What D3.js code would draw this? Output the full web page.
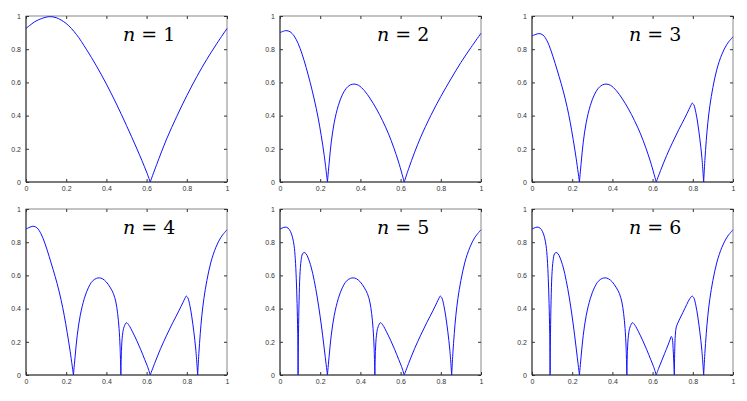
<!DOCTYPE html>
<html>
<head>
<meta charset="utf-8">
<script src="https://cdn.jsdelivr.net/npm/d3@7"></script>
<style>
  body { margin: 0; background: #fff; }
  svg { display: block; }
  .tick text { font-family: "Liberation Sans", Arial, sans-serif; font-size: 7px; fill: #333; }
  .nlabel { font-family: "DejaVu Serif", "Liberation Serif", serif; font-size: 19px; fill: #000; }
</style>
</head>
<body>
<div id="chart"></div>
<script>
// values, [x, y]
const nValues = [1, 2, 3, 4, 5, 6]
const xTicks = [0, 0.2, 0.4, 0.6, 0.8, 1]
const yTicks = [0, 0.2, 0.4, 0.6, 0.8, 1]

const curve1 = [[0,0.925],[0.05,0.97],[0.1,0.993],[0.12,0.996],[0.15,0.99],[0.2,0.955],[0.25,0.89],[0.3,0.8],[0.35,0.7],[0.4,0.59],[0.45,0.47],[0.5,0.34],[0.55,0.205],[0.6,0.06],[0.618,0],
  [0.65,0.105],[0.7,0.26],[0.75,0.395],[0.8,0.52],[0.85,0.635],[0.9,0.74],[0.95,0.835],[1,0.925]]

const curve2 = [[0,0.9],[0.03,0.912],[0.05,0.905],[0.07,0.88],[0.09,0.835],[0.11,0.77],[0.13,0.69],[0.15,0.6],[0.17,0.5],[0.19,0.385],[0.205,0.28],[0.22,0.16],[0.236,0],
  [0.245,0.12],[0.255,0.24],[0.27,0.36],[0.29,0.46],[0.31,0.525],[0.33,0.565],[0.35,0.585],[0.368,0.59],[0.39,0.583],[0.42,0.55],[0.45,0.5],[0.48,0.44],[0.51,0.37],[0.54,0.29],[0.565,0.21],[0.59,0.12],[0.618,0],
  [0.64,0.08],[0.67,0.18],[0.7,0.27],[0.75,0.4],[0.8,0.515],[0.85,0.62],[0.9,0.72],[0.95,0.81],[1,0.896]]

const curve3 = [[0,0.88],[0.035,0.894],[0.055,0.885],[0.075,0.85],[0.095,0.79],[0.115,0.715],[0.135,0.635],[0.155,0.55],[0.175,0.45],[0.19,0.36],[0.205,0.255],[0.22,0.14],[0.236,0],
  [0.245,0.12],[0.255,0.24],[0.27,0.36],[0.29,0.46],[0.31,0.525],[0.33,0.565],[0.35,0.585],[0.368,0.59],[0.39,0.583],[0.42,0.55],[0.45,0.5],[0.48,0.44],[0.51,0.37],[0.54,0.29],[0.565,0.21],[0.59,0.12],[0.618,0],
  [0.64,0.07],[0.67,0.16],[0.7,0.24],[0.73,0.315],[0.76,0.385],[0.78,0.435],[0.79,0.46],[0.797,0.475],[0.805,0.465],[0.815,0.42],[0.825,0.35],[0.835,0.26],[0.845,0.15],[0.854,0],
  [0.86,0.13],[0.867,0.25],[0.875,0.36],[0.885,0.46],[0.9,0.57],[0.92,0.68],[0.945,0.77],[0.97,0.83],[1,0.875]]

const curve4 = [[0,0.879],[0.035,0.896],[0.055,0.886],[0.075,0.85],[0.095,0.79],[0.115,0.715],[0.135,0.635],[0.155,0.55],[0.175,0.45],[0.19,0.36],[0.205,0.255],[0.22,0.14],[0.236,0],
  [0.245,0.12],[0.255,0.24],[0.27,0.36],[0.29,0.46],[0.31,0.525],[0.33,0.565],[0.35,0.582],[0.365,0.585],[0.38,0.58],[0.4,0.56],[0.42,0.525],[0.435,0.49],[0.447,0.44],[0.456,0.37],[0.463,0.28],[0.468,0.17],[0.472,0],
  [0.475,0.15],[0.48,0.24],[0.488,0.29],[0.5,0.315],[0.512,0.3],[0.53,0.26],[0.55,0.21],[0.57,0.155],[0.59,0.095],[0.605,0.05],[0.618,0],
  [0.64,0.07],[0.67,0.16],[0.7,0.24],[0.73,0.315],[0.76,0.385],[0.78,0.435],[0.79,0.46],[0.797,0.475],[0.805,0.465],[0.815,0.42],[0.825,0.35],[0.835,0.26],[0.845,0.15],[0.854,0],
  [0.86,0.13],[0.867,0.25],[0.875,0.36],[0.885,0.46],[0.9,0.57],[0.92,0.68],[0.945,0.77],[0.97,0.83],[1,0.875]]

const curve5 = [[0,0.879],[0.025,0.891],[0.04,0.885],[0.052,0.865],[0.062,0.83],[0.07,0.78],[0.076,0.7],[0.081,0.58],[0.085,0.43],[0.088,0.26],[0.09,0],
  [0.092,0.25],[0.095,0.45],[0.099,0.6],[0.105,0.69],[0.112,0.73],[0.12,0.738],[0.13,0.73],[0.14,0.705],[0.155,0.65],[0.17,0.57],[0.185,0.47],[0.2,0.35],[0.212,0.24],[0.224,0.12],[0.236,0],
  [0.245,0.12],[0.255,0.24],[0.27,0.36],[0.29,0.46],[0.31,0.525],[0.33,0.565],[0.35,0.582],[0.365,0.585],[0.38,0.58],[0.4,0.56],[0.42,0.525],[0.435,0.49],[0.447,0.44],[0.456,0.37],[0.463,0.28],[0.468,0.17],[0.472,0],
  [0.475,0.15],[0.48,0.24],[0.488,0.29],[0.5,0.315],[0.512,0.3],[0.53,0.26],[0.55,0.21],[0.57,0.155],[0.59,0.095],[0.605,0.05],[0.618,0],
  [0.64,0.07],[0.67,0.16],[0.7,0.24],[0.73,0.315],[0.76,0.385],[0.78,0.435],[0.79,0.46],[0.797,0.475],[0.805,0.465],[0.815,0.42],[0.825,0.35],[0.835,0.26],[0.845,0.15],[0.854,0],
  [0.86,0.13],[0.867,0.25],[0.875,0.36],[0.885,0.46],[0.9,0.57],[0.92,0.68],[0.945,0.77],[0.97,0.83],[1,0.875]]

const curve6 = [[0,0.879],[0.025,0.891],[0.04,0.885],[0.052,0.865],[0.062,0.83],[0.07,0.78],[0.076,0.7],[0.081,0.58],[0.085,0.43],[0.088,0.26],[0.09,0],
  [0.092,0.25],[0.095,0.45],[0.099,0.6],[0.105,0.69],[0.112,0.73],[0.12,0.738],[0.13,0.73],[0.14,0.705],[0.155,0.65],[0.17,0.57],[0.185,0.47],[0.2,0.35],[0.212,0.24],[0.224,0.12],[0.236,0],
  [0.245,0.12],[0.255,0.24],[0.27,0.36],[0.29,0.46],[0.31,0.525],[0.33,0.565],[0.35,0.582],[0.365,0.585],[0.38,0.58],[0.4,0.56],[0.42,0.525],[0.435,0.49],[0.447,0.44],[0.456,0.37],[0.463,0.28],[0.468,0.17],[0.472,0],
  [0.475,0.15],[0.48,0.24],[0.488,0.29],[0.5,0.315],[0.512,0.3],[0.53,0.26],[0.55,0.21],[0.57,0.155],[0.59,0.095],[0.605,0.05],[0.618,0],
  [0.63,0.04],[0.645,0.085],[0.66,0.13],[0.675,0.175],[0.686,0.21],[0.693,0.232],[0.698,0.22],[0.702,0.16],[0.705,0.09],[0.708,0],
  [0.71,0.14],[0.713,0.24],[0.718,0.29],[0.73,0.325],[0.75,0.375],[0.77,0.425],[0.785,0.46],[0.797,0.475],[0.805,0.465],[0.815,0.42],[0.825,0.35],[0.835,0.26],[0.845,0.15],[0.854,0],
  [0.86,0.13],[0.867,0.25],[0.875,0.36],[0.885,0.46],[0.9,0.57],[0.92,0.68],[0.945,0.77],[0.97,0.83],[1,0.875]]

const curves = [curve1, curve2, curve3, curve4, curve5, curve6]

const width = 747
const height = 401
const colLeft = [26, 280, 532]
const rowTop = [16, 209]
const panelW = 201
const panelH = 166

const svg = d3.select("#chart").append("svg")
  .attr("width", width)
  .attr("height", height)

// split a curve at its zeros so each hump is smoothed on its own
function splitAtZeros(pts) {
  const segs = []
  let cur = []
  pts.forEach(p => {
    cur.push(p)
    if (p[1] === 0 && cur.length > 1) {
      segs.push(cur)
      cur = [p]
    }
  })
  if (cur.length > 1) segs.push(cur)
  return segs
}

curves.forEach((data, i) => {
  const x0 = colLeft[i % 3]
  const y0 = rowTop[Math.floor(i / 3)]
  const g = svg.append("g").attr("transform", `translate(${x0},${y0})`)

  const x = d3.scaleLinear().domain([0, 1]).range([0, panelW])
  const y = d3.scaleLinear().domain([0, 1]).range([panelH, 0])

  // frame
  g.append("rect")
    .attr("width", panelW).attr("height", panelH)
    .attr("fill", "none").attr("stroke", "#888").attr("stroke-width", 1)

  const tidy = a => a.call(s => s.select(".domain").remove())
    .call(s => s.selectAll(".tick line").attr("stroke", "#333"))

  g.append("g").attr("transform", `translate(0,${panelH})`)
    .call(d3.axisBottom(x).tickValues(xTicks).tickSize(-3).tickPadding(4).tickFormat(d3.format("")))
    .call(tidy)
  g.append("g")
    .call(d3.axisTop(x).tickValues(xTicks).tickSize(-3).tickFormat(""))
    .call(tidy)
  g.append("g")
    .call(d3.axisLeft(y).tickValues(yTicks).tickSize(-3).tickPadding(5).tickFormat(d3.format("")))
    .call(tidy)
  g.append("g").attr("transform", `translate(${panelW},0)`)
    .call(d3.axisRight(y).tickValues(yTicks).tickSize(-3).tickFormat(""))
    .call(tidy)

  // darker left and bottom edges
  g.append("path")
    .attr("d", `M0,0V${panelH}H${panelW}`)
    .attr("fill", "none").attr("stroke", "#333")

  const line = d3.line()
    .x(d => x(d[0]))
    .y(d => y(d[1]))
    .curve(d3.curveCatmullRom.alpha(0.5))

  g.selectAll("path.curve")
    .data(splitAtZeros(data))
    .join("path")
    .attr("class", "curve")
    .attr("d", line)
    .attr("fill", "none")
    .attr("stroke", "#1010ff")
    .attr("stroke-width", 1)

  const label = g.append("text")
    .attr("class", "nlabel")
    .attr("x", 97)
    .attr("y", 25)
  label.append("tspan").style("font-style", "italic").text("n")
  label.append("tspan").attr("dx", 6).text("=")
  label.append("tspan").attr("dx", 6).text(nValues[i])
})
</script>
</body>
</html>
